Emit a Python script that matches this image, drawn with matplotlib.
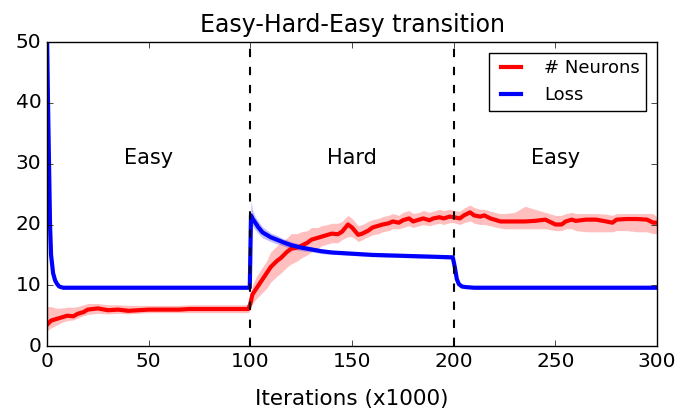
import numpy as np
import matplotlib
matplotlib.use("Agg")
import matplotlib.pyplot as plt

# number of neurons (mean, lower and upper band edge)
neuron_iters = [0, 2, 5, 8, 10, 13, 15, 18, 20, 25, 30, 35, 40, 45, 50, 55, 60, 65, 70,
                75, 80, 85, 90, 95, 99, 100, 101, 103, 105, 108, 110, 113, 115, 118, 120,
                123, 125, 128, 130, 133, 135, 138, 140, 143, 145, 148, 150, 153, 155, 158,
                160, 163, 165, 168, 170, 173, 175, 178, 180, 183, 185, 188, 190, 193, 195,
                198, 200, 203, 205, 208, 210, 213, 215, 218, 220, 223, 225, 230, 235, 240,
                245, 250, 253, 255, 258, 260, 265, 270, 275, 278, 280, 285, 290, 295, 298, 300]
neurons = [3.5, 4.2, 4.5, 4.8, 5.0, 4.9, 5.3, 5.6, 6.0, 6.2, 5.9, 6.0, 5.8, 5.9, 6.0, 6.0,
           6.0, 6.0, 6.1, 6.1, 6.1, 6.1, 6.1, 6.1, 6.1, 7.0, 8.5, 9.5, 10.5, 12.0, 13.0, 14.0,
           14.5, 15.5, 16.0, 16.2, 16.5, 17.0, 17.5, 17.8, 18.0, 18.3, 18.5, 18.4, 18.8, 20.0,
           19.5, 18.3, 18.5, 19.0, 19.5, 19.8, 20.0, 20.2, 20.5, 20.3, 20.7, 21.0, 20.5, 20.8,
           21.0, 20.7, 21.0, 21.2, 21.0, 21.3, 21.2, 21.0, 21.5, 22.0, 21.5, 21.3, 21.5, 21.0,
           20.8, 20.5, 20.5, 20.5, 20.5, 20.6, 20.8, 20.0, 20.0, 20.5, 20.8, 20.6, 20.8, 20.8,
           20.5, 20.3, 20.8, 20.9, 20.9, 20.8, 20.3, 20.3]
neurons_lo = [2.5, 3.0, 3.5, 4.0, 4.2, 4.3, 4.6, 5.0, 5.2, 5.4, 5.3, 5.4, 5.3, 5.4, 5.5, 5.5,
              5.5, 5.5, 5.5, 5.5, 5.5, 5.5, 5.5, 5.5, 5.5, 6.0, 7.0, 7.8, 8.5, 9.5, 10.5, 11.5,
              12.0, 13.0, 13.5, 14.0, 14.5, 15.0, 15.5, 16.0, 16.5, 16.8, 17.0, 17.0, 17.5, 18.0,
              18.0, 17.2, 17.5, 18.0, 18.3, 18.5, 18.8, 19.0, 19.3, 19.3, 19.5, 19.8, 19.5, 19.8,
              20.0, 19.8, 20.0, 20.2, 20.0, 20.3, 20.3, 20.0, 20.3, 20.6, 20.2, 20.0, 20.0, 19.8,
              19.6, 19.4, 19.3, 19.3, 19.3, 19.3, 19.3, 19.0, 19.0, 19.3, 19.3, 19.0, 18.8, 18.8,
              18.8, 18.8, 19.0, 19.0, 18.8, 18.8, 18.5, 18.5]
neurons_hi = [6.5, 6.5, 6.2, 6.3, 6.4, 6.4, 6.5, 6.8, 7.0, 7.0, 6.8, 6.8, 6.7, 6.7, 6.7, 6.7,
              6.7, 6.7, 6.8, 6.8, 6.8, 6.8, 6.8, 6.8, 6.8, 8.0, 10.0, 11.5, 12.5, 14.0, 15.5, 16.5,
              17.0, 17.8, 18.5, 18.5, 18.8, 19.0, 19.5, 19.5, 19.8, 20.0, 20.2, 20.2, 20.5, 21.5,
              21.0, 19.8, 20.0, 20.5, 20.8, 21.0, 21.3, 21.5, 21.8, 21.5, 22.0, 22.3, 21.8, 22.0,
              22.3, 22.0, 22.2, 22.5, 22.3, 22.5, 22.3, 22.2, 22.7, 23.2, 22.8, 22.5, 22.5, 22.2,
              22.0, 21.8, 21.8, 22.0, 23.0, 22.5, 22.0, 21.5, 21.5, 21.8, 22.0, 21.8, 21.8, 21.8,
              21.7, 21.5, 21.8, 21.8, 21.8, 21.8, 21.8, 21.2]

# loss (mean, lower and upper band edge)
loss_iters = [0, 0.5, 1, 1.5, 2, 3, 4, 5, 6, 8, 10, 50, 99.7, 100.3, 101, 102, 104, 106, 108,
              110, 113, 116, 120, 125, 130, 135, 140, 150, 160, 170, 180, 190, 199.5, 200.5,
              201.5, 202.5, 204, 206, 210, 250, 300]
loss = [52, 40, 30, 20, 15, 12, 10.8, 10.2, 9.8, 9.6, 9.6, 9.6, 9.6, 21.5, 21.0, 20.5, 19.5,
        18.7, 18.3, 17.9, 17.5, 17.1, 16.6, 16.2, 15.9, 15.6, 15.4, 15.2, 15.0, 14.9, 14.8,
        14.7, 14.6, 13.0, 11.0, 10.2, 9.8, 9.7, 9.6, 9.6, 9.6]
loss_lo = [52, 39, 29, 19.5, 14.5, 11.7, 10.5, 10.0, 9.6, 9.4, 9.4, 9.4, 9.4, 20.5, 19.8, 19.3,
           18.5, 17.8, 17.5, 17.2, 16.8, 16.5, 16.0, 15.7, 15.5, 15.2, 15.1, 14.9, 14.7, 14.6,
           14.5, 14.4, 14.3, 12.5, 10.7, 10.0, 9.6, 9.5, 9.4, 9.4, 9.4]
loss_hi = [52, 41, 31, 20.5, 15.5, 12.3, 11.1, 10.4, 10.0, 9.8, 9.8, 9.8, 9.8, 24.0, 22.5, 21.5,
           20.5, 19.6, 19.1, 18.6, 18.2, 17.7, 17.2, 16.7, 16.3, 16.0, 15.7, 15.5, 15.3, 15.2,
           15.1, 15.0, 14.9, 13.5, 11.3, 10.4, 10.0, 9.9, 9.8, 9.8, 9.8]

phase_labels = ["Easy", "Hard", "Easy"]
phase_x = [50, 150, 250]
boundaries = [100, 200]

plt.style.use("classic")
fig = plt.figure(figsize=(6.78, 4.13), dpi=100, facecolor="white")
ax = fig.add_axes([0.0693, 0.162, 0.9, 0.736])

ax.fill_between(neuron_iters, neurons_lo, neurons_hi, color="#ff0000", alpha=0.25, lw=0)
ax.fill_between(loss_iters, loss_lo, loss_hi, color="#0000ff", alpha=0.25, lw=0)
ax.plot(neuron_iters, neurons, color="#ff0000", lw=3, label="# Neurons")
ax.plot(loss_iters, loss, color="#0000ff", lw=3, label="Loss")

for b in boundaries:
    ax.axvline(b, color="k", ls="--", lw=1.5, dashes=(6, 7))
for x, t in zip(phase_x, phase_labels):
    ax.text(x, 31, t, ha="center", va="center", fontsize=15)

ax.set_xlim(0, 300)
ax.set_ylim(0, 50)
ax.set_xlabel("Iterations (x1000)", fontsize=15.5, labelpad=13)
ax.set_title("Easy-Hard-Easy transition", fontsize=17, y=1.01)
ax.tick_params(labelsize=14.5)
ax.legend(loc="upper right", fontsize=13, frameon=True, handlelength=1.7,
          handletextpad=1.0, borderpad=0.35, borderaxespad=0.6)

plt.savefig("out.png", dpi=100, facecolor="white")
